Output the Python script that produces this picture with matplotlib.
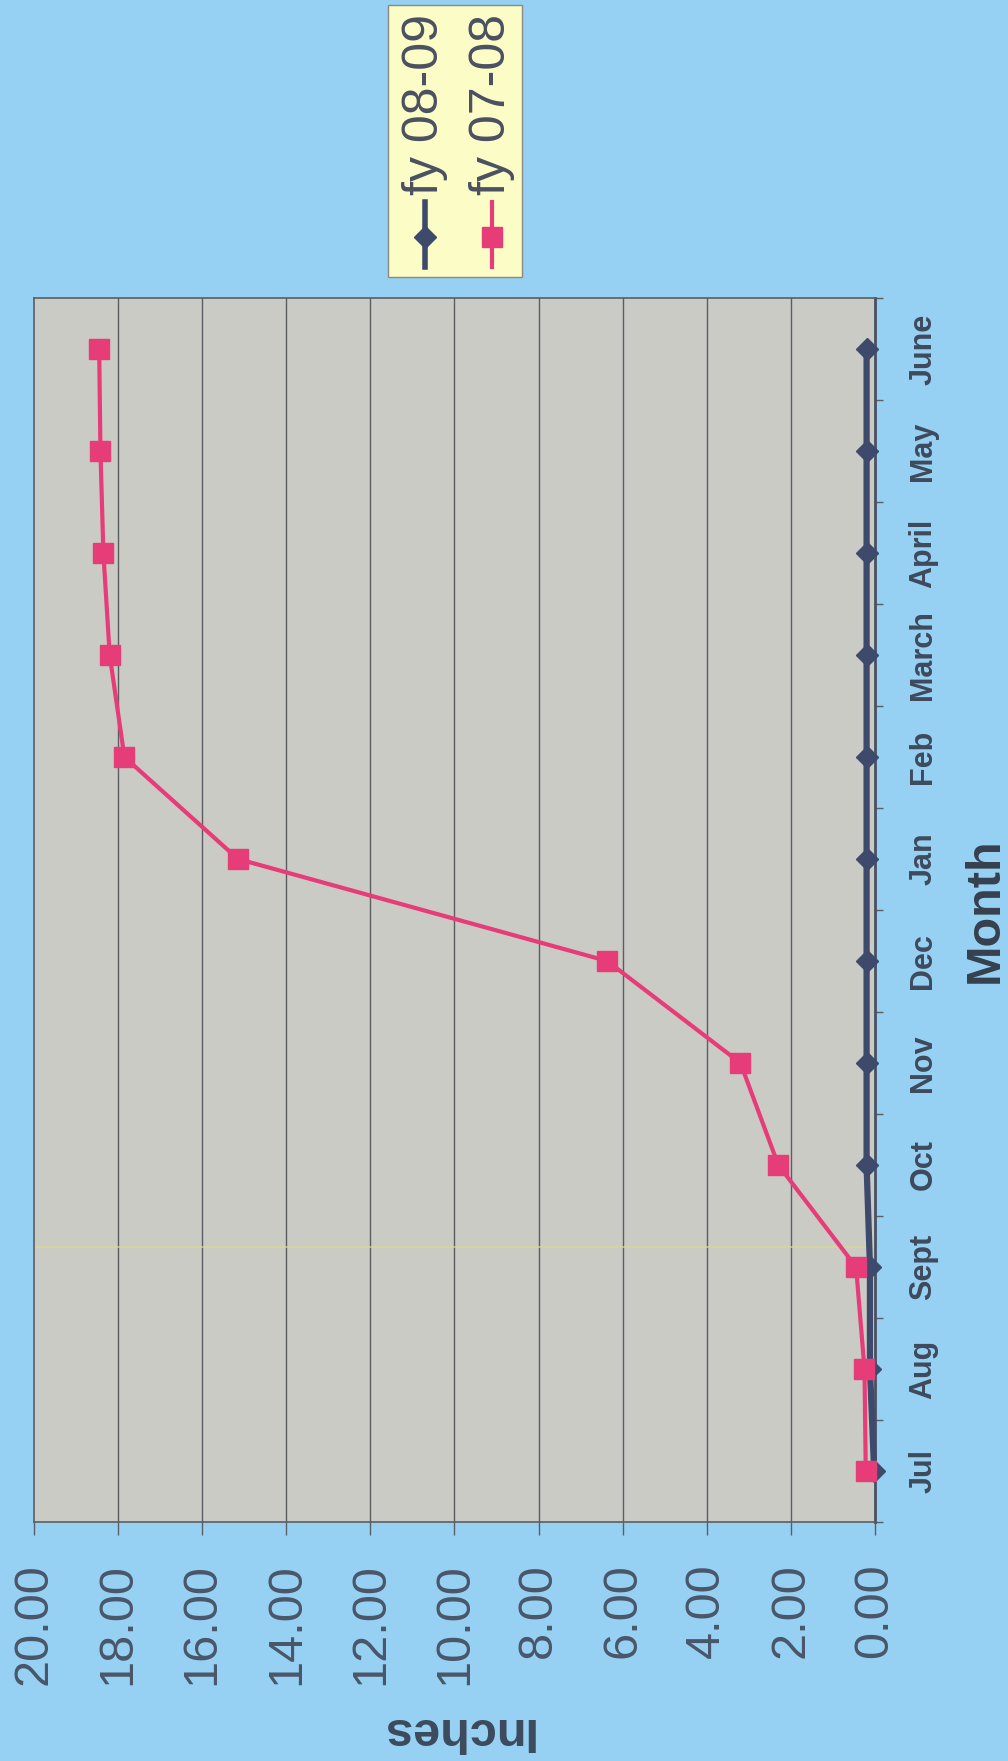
import numpy as np
import matplotlib
matplotlib.use("Agg")
import matplotlib.pyplot as plt
from matplotlib.lines import Line2D
from matplotlib.patches import Rectangle
from matplotlib.ticker import FixedLocator, NullFormatter

plt.rcParams['font.family'] = ['Liberation Sans', 'DejaVu Sans']

months = ["Jul", "Aug", "Sept", "Oct", "Nov", "Dec", "Jan", "Feb", "March", "April", "May", "June"]
fy_0809 = [0.02, 0.12, 0.12, 0.20, 0.20, 0.20, 0.20, 0.20, 0.20, 0.20, 0.20, 0.20]
fy_0708 = [0.22, 0.25, 0.45, 2.30, 3.20, 6.37, 15.15, 17.85, 18.20, 18.35, 18.42, 18.45]
inch_ticks = [0, 2, 4, 6, 8, 10, 12, 14, 16, 18, 20]

W, H = 1008, 1761
bg = "#96d1f3"
navy = "#3d4a6b"
pink = "#e63c78"
label_col = "#4a5668"

fig = plt.figure(figsize=(W / 100, H / 100), dpi=100)
fig.patch.set_facecolor(bg)

# chart is laid out on its side: inches run right-to-left, months bottom-to-top
ax = fig.add_axes([34 / W, 1 - 1522 / H, (875 - 34) / W, (1522 - 298) / H])
ax.set_facecolor("#cbcbc6")
y = np.arange(len(months))

ax.set_xlim(20, 0)
ax.set_ylim(-0.5, len(months) - 0.5)

for v in inch_ticks[1:-1]:
    ax.axvline(v, color="#5a5e62", lw=1, zorder=1)
ax.axhline(2.2, color="#d9d98a", lw=1.2, alpha=0.8, zorder=1)

ax.plot(fy_0809, y, "-D", color=navy, lw=4.5, ms=11, mec=navy, clip_on=False, zorder=4)
ax.plot(fy_0708, y, "-s", color=pink, lw=3, ms=15, mec=pink, clip_on=False, zorder=5)

for s in ax.spines.values():
    s.set_color("#5a5e62")
    s.set_linewidth(1.2)
ax.spines["right"].set_color("#4a5060")
ax.spines["right"].set_linewidth(2)

# inches axis along the bottom
ax.set_xticks(inch_ticks)
ax.set_xticklabels(["%.2f" % v for v in inch_ticks], rotation=90, fontsize=35,
                   color=label_col, va="top", ha="center")
ax.tick_params(axis="x", direction="out", length=9.5, width=1, color="#5a5e62", pad=20)

# months on the right, tick marks between categories
ax.yaxis.tick_right()
ax.yaxis.set_major_locator(FixedLocator(y))
ax.set_yticklabels(months, rotation=90, fontsize=22, fontweight="bold",
                   color="#3e4a5c", va="center", ha="left")
ax.tick_params(axis="y", which="major", length=0, pad=24)
ax.yaxis.set_minor_locator(FixedLocator(np.arange(-0.5, len(months), 1.0)))
ax.yaxis.set_minor_formatter(NullFormatter())
ax.tick_params(axis="y", which="minor", direction="out", length=6, width=1, color="#5a5e62")

fig.text(985 / W, 1 - 910 / H, "Month", rotation=90, fontsize=35, fontweight="bold",
         color="#36404e", ha="center", va="center")
fig.text(456 / W, 1 - 1730 / H, "Inches", rotation=180, fontsize=35, fontweight="bold",
         color="#3c4a5c", ha="center", va="center")

# legend box
fig.patches.append(Rectangle((388 / W, 1 - 277 / H), 134 / W, 272 / H,
                             transform=fig.transFigure, facecolor="#fcfcc6",
                             edgecolor="#8a8a80", lw=1))
entries = [("fy 08-09", navy, "D", 11, 4, 425), ("fy 07-08", pink, "s", 15, 3, 492)]
for name, col, mk, ms, lw, xp in entries:
    fig.lines.append(Line2D([xp / W, xp / W], [1 - 202 / H, 1 - 267 / H],
                            transform=fig.transFigure, color=col, lw=lw))
    fig.lines.append(Line2D([xp / W], [1 - 237 / H], transform=fig.transFigure,
                            marker=mk, ms=ms, color=col, mec=col, ls="none"))
    fig.text(xp / W, 1 - 195 / H, name, rotation=90, fontsize=36, color="#4a5060",
             ha="center", va="bottom")

fig.savefig("out.png", dpi=100, facecolor=bg)
